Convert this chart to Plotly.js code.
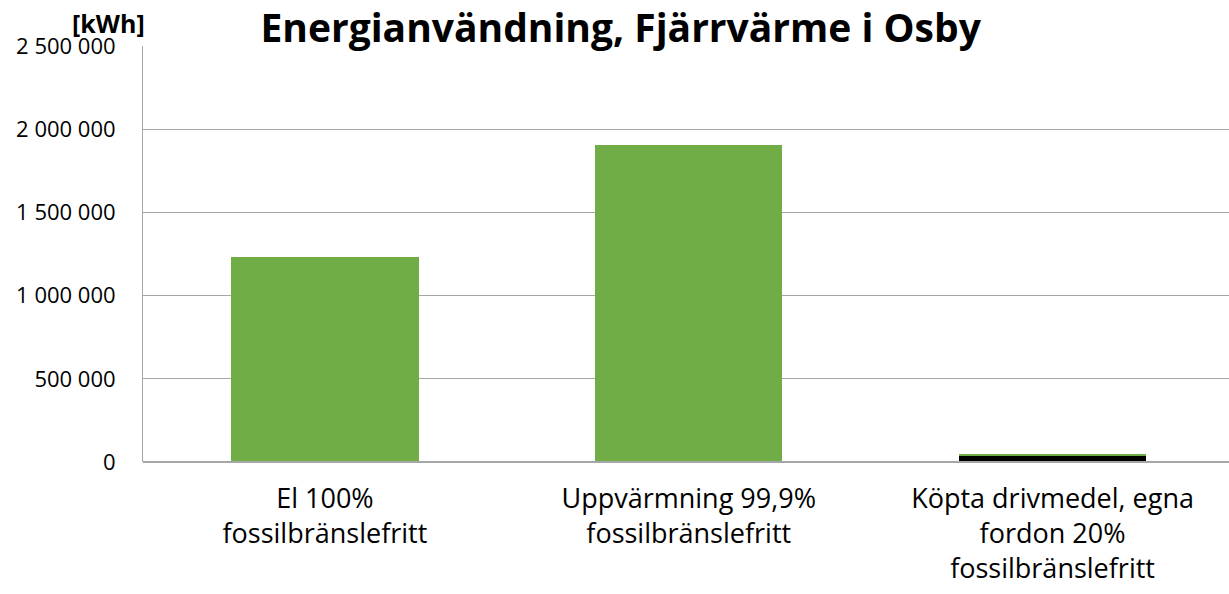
<!DOCTYPE html>
<html><head><meta charset="utf-8">
<script src="https://cdn.plot.ly/plotly-3.0.1.min.js"></script>
<style>html,body{margin:0;padding:0;background:#fff}#c{width:1229px;height:594px}</style>
</head><body><div id="c"></div>
<script>
const categories = ['El 100%<br>fossilbränslefritt', 'Uppvärmning 99,9%<br>fossilbränslefritt', 'Köpta drivmedel, egna<br>fordon 20%<br>fossilbränslefritt'];
const fossilFree = [1232000, 1905000, 9200];
const fossil = [0, 0, 36800];
const yTicks = [0, 500000, 1000000, 1500000, 2000000, 2500000];

const font = '"Open Sans", Calibri, sans-serif';
const traces = [
  {type:'bar', x:[0,1,2], y:fossil, marker:{color:'#000000'}, hoverinfo:'skip'},
  {type:'bar', x:[0,1,2], y:fossilFree, marker:{color:'#70ad47'}, hoverinfo:'skip'}
];
const layout = {
  width:1229, height:594,
  margin:{l:143, r:0, t:46, b:132},
  barmode:'stack', bargap:0.485,
  showlegend:false,
  separators:', ',
  paper_bgcolor:'#fff', plot_bgcolor:'#fff',
  font:{family:font, color:'#000'},
  title:{text:'<b>Energianvändning, Fjärrvärme i Osby</b>', font:{family:font, size:39, color:'#000'}, x:0.505, xanchor:'center', y:0.953, yanchor:'middle'},
  xaxis:{range:[-0.5, 2.485], tickvals:[0,1,2], ticktext:categories, tickfont:{size:27, color:'#000'}, showgrid:false, zeroline:false, showline:false, ticks:'', ticklen:0, ticklabelstandoff:18},
  yaxis:{range:[0,2500000], tickvals:yTicks, tickformat:',d', tickfont:{size:22, color:'#000'}, showgrid:true, gridcolor:'#a6a6a6', gridwidth:1, zeroline:false, showline:true, linecolor:'#a6a6a6', ticks:'', ticklabelstandoff:22},
  shapes:[{type:'line', xref:'paper', yref:'paper', x0:0, x1:1, y0:0, y1:0, line:{color:'#a6a6a6', width:2}}],
  annotations:[{text:'<b>[kWh]</b>', xref:'paper', yref:'paper', x:-0.032, y:1.055, xanchor:'center', yanchor:'middle', showarrow:false, font:{family:font, size:25, color:'#000'}}]
};
Plotly.newPlot('c', traces, layout, {staticPlot:true, displayModeBar:false});
</script></body></html>
